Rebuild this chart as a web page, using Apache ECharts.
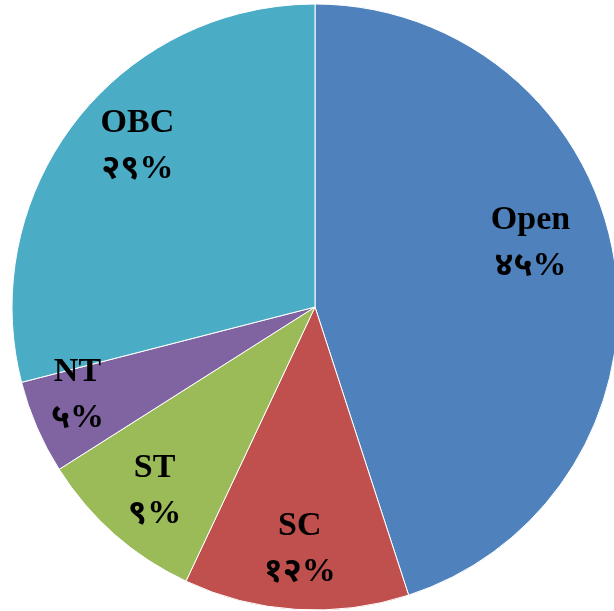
<!DOCTYPE html>
<html>
<head>
<meta charset="utf-8">
<script src="https://cdn.jsdelivr.net/npm/echarts@6/dist/echarts.min.js"></script>
<style>
  html, body { margin: 0; padding: 0; background: #fff; }
  #chart { width: 614px; height: 611px; }
</style>
</head>
<body>
<div id="chart"></div>
<script>
// categories and shares
var categories = ["Open", "SC", "ST", "NT", "OBC"];
var shares = [45, 12, 9, 5, 29];
var shareLabels = ["४५%", "१२%", "९%", "५%", "२९%"];
var sliceColors = ["#4F81BD", "#C0504D", "#9BBB59", "#8064A2", "#4BACC6"];
// small nudges so labels sit where the original put them
var labelNudge = [[-24, -26], [0, 0], [0, 2], [-15, -8], [14, -12]];

var pieData = categories.map(function (name, i) {
    return { name: name, value: shares[i], itemStyle: { color: sliceColors[i] } };
});
// same data again, only used to place the labels further out
var labelData = categories.map(function (name, i) {
    return { name: name, value: shares[i], label: { offset: labelNudge[i] } };
});

var myChart = echarts.init(document.getElementById("chart"));
myChart.setOption({
    animation: false,
    series: [
        {
            type: "pie",
            center: [315, 307],
            radius: 303,
            startAngle: 90,
            clockwise: true,
            silent: true,
            data: pieData,
            itemStyle: { borderColor: "#ffffff", borderWidth: 1 },
            label: { show: false },
            labelLine: { show: false }
        },
        {
            type: "pie",
            center: [315, 307],
            radius: [176, 303],
            startAngle: 90,
            clockwise: true,
            silent: true,
            data: labelData,
            itemStyle: { color: "rgba(0,0,0,0)" },
            label: {
                show: true,
                position: "inside",
                formatter: function (p) {
                    return p.name + "\n" + shareLabels[p.dataIndex];
                },
                fontFamily: "Liberation Serif, Noto Sans, serif",
                fontWeight: "bold",
                fontSize: 34,
                lineHeight: 46,
                color: "#000"
            },
            labelLine: { show: false }
        }
    ]
});
</script>
</body>
</html>
